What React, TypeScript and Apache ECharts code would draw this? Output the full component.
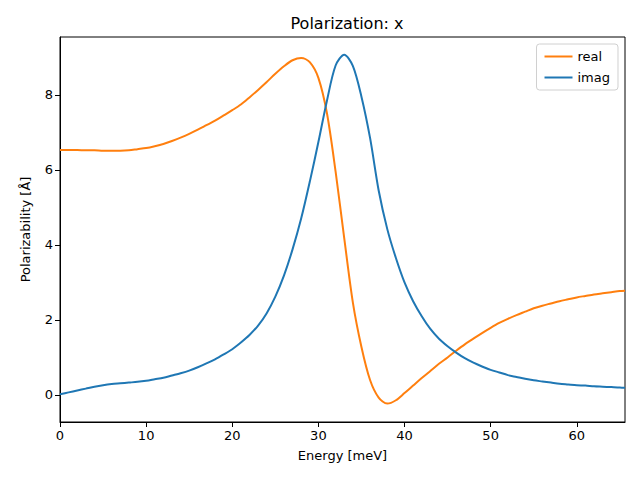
import React, { useEffect, useRef } from "react";
import * as echarts from "echarts";

const energy = [0, 1, 2, 3, 4, 5, 6, 7, 8, 9, 10, 11, 12, 13, 14, 15, 16, 17, 18, 19, 20, 21, 22, 23, 24, 25, 26, 27, 28, 29, 30, 31, 32, 33, 34, 35, 36, 37, 38, 39, 40, 41, 42, 43, 44, 45, 46, 47, 48, 49, 50, 51, 52, 53, 54, 55, 56, 57, 58, 59, 60, 61, 62, 63, 64, 65, 65.6];

const realY = [6.53, 6.53, 6.53, 6.52, 6.52, 6.51, 6.51, 6.51, 6.52, 6.55, 6.58, 6.63, 6.69, 6.77, 6.86, 6.96, 7.07, 7.19, 7.31, 7.45, 7.59, 7.74, 7.93, 8.13, 8.34, 8.56, 8.76, 8.92, 8.98, 8.87, 8.45, 7.5, 5.95, 4.18, 2.47, 1.28, 0.4, -0.07, -0.23, -0.14, 0.05, 0.25, 0.45, 0.64, 0.83, 1.0, 1.18, 1.35, 1.5, 1.65, 1.79, 1.92, 2.03, 2.13, 2.22, 2.31, 2.38, 2.44, 2.5, 2.55, 2.6, 2.64, 2.68, 2.71, 2.74, 2.77, 2.78];

const imagY = [0.02, 0.07, 0.12, 0.17, 0.22, 0.26, 0.29, 0.31, 0.33, 0.35, 0.38, 0.42, 0.46, 0.52, 0.58, 0.65, 0.74, 0.84, 0.95, 1.08, 1.22, 1.4, 1.6, 1.85, 2.18, 2.62, 3.18, 3.88, 4.7, 5.68, 6.74, 7.85, 8.78, 9.07, 8.77, 7.95, 6.85, 5.45, 4.42, 3.65, 3.0, 2.5, 2.1, 1.76, 1.5, 1.3, 1.13, 0.98, 0.86, 0.76, 0.67, 0.6, 0.53, 0.48, 0.43, 0.39, 0.36, 0.33, 0.3, 0.28, 0.26, 0.25, 0.23, 0.22, 0.21, 0.2, 0.19];

const xTicks = [0, 10, 20, 30, 40, 50, 60];
const yTicks = [0, 2, 4, 6, 8];

const FONT = "DejaVu Sans";

export default function App() {
  const ref = useRef<HTMLDivElement>(null);
  useEffect(() => {
    if (!ref.current) return;
    const chart = echarts.init(ref.current, null, { renderer: "svg" });
    const pair = (xs: number[], ys: number[]) => xs.map((x, i) => [x, ys[i]]);
    chart.setOption({
      animation: false,
      backgroundColor: "#ffffff",
      textStyle: { fontFamily: FONT },
      title: {
        text: "Polarization: x",
        left: 342,
        textAlign: "center",
        top: 10,
        textStyle: { fontFamily: FONT, fontSize: 16, fontWeight: "normal", color: "#000" },
      },
      legend: {
        right: 22,
        top: 44,
        orient: "vertical",
        itemWidth: 28,
        itemHeight: 2,
        itemGap: 8,
        padding: [6, 8, 6, 8],
        borderColor: "#d0d0d0",
        borderWidth: 1,
        borderRadius: 3,
        backgroundColor: "rgba(255,255,255,0.8)",
        icon: "rect",
        textStyle: { fontFamily: FONT, fontSize: 13, color: "#000" },
        data: ["real", "imag"],
      },
      grid: {
        left: 60,
        right: 15,
        top: 37,
        bottom: 58,
        show: true,
        borderColor: "#000",
        borderWidth: 1,
        backgroundColor: "transparent",
      },
      xAxis: {
        type: "value",
        min: 0,
        max: 65.6,
        name: "Energy [meV]",
        nameLocation: "middle",
        nameGap: 27,
        nameTextStyle: { fontFamily: FONT, fontSize: 13, color: "#000" },
        splitLine: { show: false },
        axisLine: { show: true, onZero: false, lineStyle: { color: "#000", width: 1 } },
        axisTick: { show: true, length: 5, lineStyle: { color: "#000" }, customValues: xTicks },
        axisLabel: { fontFamily: FONT, fontSize: 13, color: "#000", margin: 7, customValues: xTicks },
      },
      yAxis: {
        type: "value",
        min: -0.72,
        max: 9.54,
        name: "Polarizability [Å]",
        nameLocation: "middle",
        nameGap: 28,
        nameTextStyle: { fontFamily: FONT, fontSize: 13, color: "#000" },
        splitLine: { show: false },
        axisLine: { show: true, onZero: false, lineStyle: { color: "#000", width: 1 } },
        axisTick: { show: true, length: 5, lineStyle: { color: "#000" }, customValues: yTicks },
        axisLabel: { fontFamily: FONT, fontSize: 13, color: "#000", margin: 7, customValues: yTicks },
      },
      series: [
        {
          name: "real",
          type: "line",
          data: pair(energy, realY),
          showSymbol: false,
          smooth: 0.3,
          color: "#ff7f0e",
          lineStyle: { color: "#ff7f0e", width: 2 },
        },
        {
          name: "imag",
          type: "line",
          data: pair(energy, imagY),
          showSymbol: false,
          smooth: 0.3,
          color: "#1f77b4",
          lineStyle: { color: "#1f77b4", width: 2 },
        },
      ],
    });
    return () => chart.dispose();
  }, []);
  return <div ref={ref} style={{ width: 640, height: 480, position: "absolute", left: 0, top: 0 }} />;
}
